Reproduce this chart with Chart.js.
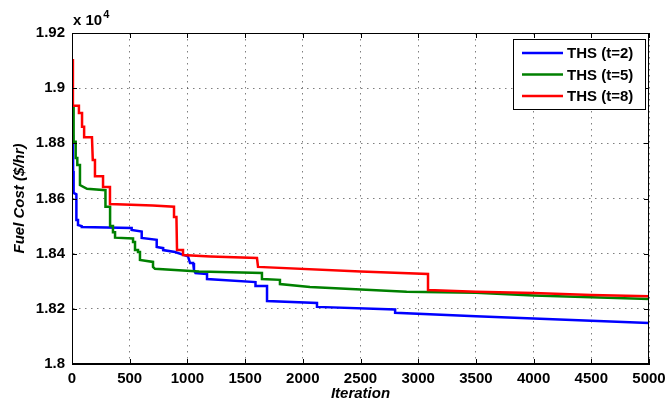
<!DOCTYPE html>
<html>
<head>
<meta charset="utf-8">
<script src="https://cdn.jsdelivr.net/npm/chart.js@4.4.0/dist/chart.umd.min.js"></script>
<style>
html,body{margin:0;padding:0;background:#fff;}
#wrap{width:667px;height:403px;position:relative;}
</style>
</head>
<body>
<div id="wrap"><canvas id="c" width="667" height="403"></canvas></div>
<script>
// ---- data ----
const seriesLabels = ["THS (t=2)", "THS (t=5)", "THS (t=8)"];
const seriesColors = ["#0000ff", "#008000", "#ff0000"];

const t2Iter = [8, 10, 14, 38, 38, 52, 52, 84, 84, 517, 517, 604, 604, 734, 734, 790, 790, 893, 1005, 1023, 1050, 1057, 1070, 1170, 1170, 1590, 1590, 1690, 1690, 2123, 2123, 2800, 2800, 3500, 4000, 4500, 5000];
const t2Cost = [18830, 18700, 18620, 18615, 18522, 18522, 18504, 18500, 18497, 18493, 18486, 18480, 18457, 18450, 18424, 18420, 18413, 18406, 18390, 18366, 18366, 18341, 18330, 18326, 18308, 18297, 18283, 18283, 18228, 18221, 18207, 18198, 18186, 18173, 18165, 18157, 18149];

const t5Iter = [8, 14, 14, 32, 32, 46, 46, 69, 69, 130, 290, 290, 330, 330, 355, 355, 373, 373, 529, 529, 546, 546, 572, 572, 589, 589, 702, 702, 719, 1100, 1646, 1646, 1802, 1802, 2062, 2900, 3500, 4000, 4500, 5000];
const t5Cost = [18930, 18930, 18806, 18806, 18747, 18747, 18721, 18721, 18649, 18635, 18630, 18570, 18570, 18500, 18500, 18478, 18478, 18458, 18455, 18442, 18442, 18413, 18413, 18406, 18406, 18377, 18370, 18352, 18345, 18335, 18330, 18308, 18305, 18290, 18279, 18262, 18258, 18248, 18242, 18236];

const t8Iter = [8, 8, 60, 60, 87, 87, 105, 105, 173, 180, 199, 199, 269, 269, 329, 329, 700, 884, 884, 905, 910, 962, 962, 1200, 1603, 1612, 2500, 3085, 3085, 3500, 4000, 4500, 5000];
const t8Cost = [19106, 18936, 18936, 18910, 18910, 18860, 18860, 18822, 18822, 18740, 18740, 18681, 18681, 18642, 18642, 18580, 18575, 18570, 18533, 18533, 18413, 18413, 18395, 18390, 18384, 18352, 18335, 18326, 18268, 18262, 18257, 18250, 18246];

const xMin = 0, xMax = 5000, xStep = 500;
const yMin = 18000, yMax = 19200, yStep = 200;
const yExponentLabel = "x 10";
const yExponent = "4";
const xTitle = "Iteration";
const yTitle = "Fuel Cost ($/hr)";

// ---- build ----
function pts(xs, ys){ return xs.map((x,i)=>({x:x, y:ys[i]})); }
const FONT = "'Liberation Sans', Arial, Helvetica, sans-serif";

const datasets = [
  {label: seriesLabels[0], data: pts(t2Iter, t2Cost), borderColor: seriesColors[0], order: 2},
  {label: seriesLabels[1], data: pts(t5Iter, t5Cost), borderColor: seriesColors[1], order: 1},
  {label: seriesLabels[2], data: pts(t8Iter, t8Cost), borderColor: seriesColors[2], order: 0}
].map(d => Object.assign(d, {borderWidth: 2.5, pointRadius: 0, tension: 0, fill: false, borderJoinStyle: 'miter'}));

const framePlugin = {
  id: 'frame',
  afterDraw(chart){
    const ctx = chart.ctx, a = chart.chartArea;
    const xs = chart.scales.x, ys = chart.scales.y;
    ctx.save();
    ctx.strokeStyle = '#000';
    ctx.lineWidth = 1;
    ctx.strokeRect(a.left + 0.5, a.top + 0.5, a.right - a.left - 1, a.bottom - a.top - 1);
    const tl = 5;
    ctx.beginPath();
    xs.ticks.forEach(t => {
      const px = Math.round(xs.getPixelForValue(t.value)) + 0.5;
      ctx.moveTo(px, a.bottom); ctx.lineTo(px, a.bottom - tl);
      ctx.moveTo(px, a.top); ctx.lineTo(px, a.top + tl);
    });
    ys.ticks.forEach(t => {
      const py = Math.round(ys.getPixelForValue(t.value)) + 0.5;
      ctx.moveTo(a.left, py); ctx.lineTo(a.left + tl, py);
      ctx.moveTo(a.right, py); ctx.lineTo(a.right - tl, py);
    });
    ctx.stroke();

    // exponent label
    ctx.fillStyle = '#000';
    ctx.textBaseline = 'middle';
    ctx.textAlign = 'left';
    ctx.font = "bold 15px " + FONT;
    ctx.fillText(yExponentLabel, a.left + 1, a.top - 12);
    const w = ctx.measureText(yExponentLabel).width;
    ctx.font = "bold 11px " + FONT;
    ctx.fillText(yExponent, a.left + 2 + w, a.top - 18);

    // legend
    const bw = 132, bh = 70;
    const bx = a.right - 4 - bw, by = a.top + 6;
    ctx.fillStyle = '#fff';
    ctx.fillRect(bx, by, bw, bh);
    ctx.strokeStyle = '#000';
    ctx.lineWidth = 1;
    ctx.strokeRect(bx + 0.5, by + 0.5, bw, bh);
    chart.data.datasets.forEach((d, i) => {
      const cy = by + 14 + i * 21.5;
      ctx.strokeStyle = d.borderColor;
      ctx.lineWidth = 2.5;
      ctx.beginPath();
      ctx.moveTo(bx + 9, cy); ctx.lineTo(bx + 50, cy);
      ctx.stroke();
      ctx.fillStyle = '#000';
      ctx.font = "bold 15px " + FONT;
      ctx.textAlign = 'left';
      ctx.textBaseline = 'middle';
      ctx.fillText(d.label, bx + 54, cy + 1);
    });
    ctx.restore();
  }
};

new Chart(document.getElementById('c'), {
  type: 'line',
  data: {datasets},
  options: {
    responsive: false,
    animation: false,
    devicePixelRatio: 1,
    layout: {padding: {left: 11, right: 18, top: 33, bottom: 0}},
    plugins: {legend: {display: false}, tooltip: {enabled: false}},
    scales: {
      x: {
        type: 'linear', min: xMin, max: xMax,
        afterFit(s){ s.height = 39; s.paddingLeft = 0; s.paddingRight = 0; },
        ticks: {stepSize: xStep, color: '#000', padding: 6, font: {family: FONT, size: 15, weight: 'bold'}, maxRotation: 0, autoSkip: false,
          callback: v => String(v)},
        grid: {color: 'rgba(0,0,0,0.5)', lineWidth: 1, drawTicks: false},
        border: {display: true, color: '#000', width: 1, dash: [1.5, 4.5]},
        title: {display: true, text: xTitle, color: '#000', padding: {top: 0, bottom: 0}, font: {family: FONT, size: 15, weight: 'bold', style: 'italic'}}
      },
      y: {
        type: 'linear', min: yMin, max: yMax,
        afterFit(s){ s.width = 61; s.paddingTop = 0; s.paddingBottom = 0; },
        ticks: {stepSize: yStep, color: '#000', padding: 7, font: {family: FONT, size: 15, weight: 'bold'},
          callback: v => String(parseFloat((v / 10000).toFixed(2)))},
        grid: {color: 'rgba(0,0,0,0.5)', lineWidth: 1, drawTicks: false},
        border: {display: true, color: '#000', width: 1, dash: [1.5, 4.5]},
        title: {display: true, text: yTitle, color: '#000', padding: {top: 0, bottom: 0}, font: {family: FONT, size: 15, weight: 'bold', style: 'italic'}}
      }
    }
  },
  plugins: [framePlugin]
});
</script>
</body>
</html>
